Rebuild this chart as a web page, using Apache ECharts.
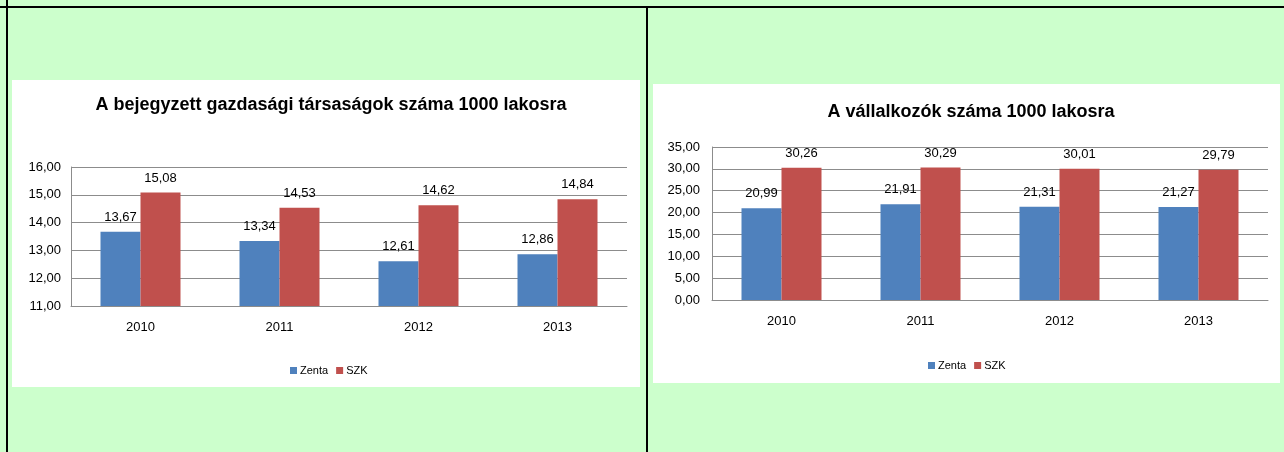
<!DOCTYPE html>
<html>
<head>
<meta charset="utf-8">
<script src="https://cdn.jsdelivr.net/npm/echarts@6/dist/echarts.min.js"></script>
<style>
  html, body { margin: 0; padding: 0; background: #CCFFCC; }
  #chart { width: 1284px; height: 452px; }
</style>
</head>
<body>
<div id="chart"></div>
<script>
// adatok
const years = ['2010', '2011', '2012', '2013']
const seriesNames = ['Zenta', 'SZK']
const tarsasagokZenta = [13.67, 13.34, 12.61, 12.86]
const tarsasagokSzk = [15.08, 14.53, 14.62, 14.84]
const vallalkozokZenta = [20.99, 21.91, 21.31, 21.27]
const vallalkozokSzk = [30.26, 30.29, 30.01, 29.79]
const titles = ['A bejegyzett gazdasági társaságok száma 1000 lakosra', 'A vállalkozók száma 1000 lakosra']

const blue = '#4F81BD'
const red = '#C0504D'
const gridColor = '#8C8C8C'
const font = 'Liberation Sans, Arial, sans-serif'

function fmt (v) {
  return Number(v).toFixed(2).replace('.', ',')
}

const chart = echarts.init(document.getElementById('chart'))

function yAxis (idx, min, max, interval, margin) {
  return {
    type: 'value',
    gridIndex: idx,
    min: min,
    max: max,
    interval: interval,
    axisLine: { show: true, lineStyle: { color: gridColor } },
    axisTick: { show: false },
    axisLabel: { formatter: fmt, color: '#000', fontSize: 13, fontFamily: font, margin: margin },
    splitLine: { show: true, lineStyle: { color: gridColor, width: 1 } }
  }
}

function xAxis (idx) {
  return {
    type: 'category',
    gridIndex: idx,
    data: years,
    axisLine: { show: true, lineStyle: { color: gridColor } },
    axisTick: { show: false },
    axisLabel: { color: '#000', fontSize: 13, fontFamily: font, margin: 15 }
  }
}

function bar (name, data, color, idx) {
  return {
    name: name,
    type: 'bar',
    xAxisIndex: idx,
    yAxisIndex: idx,
    data: data,
    barWidth: 40,
    barGap: '0%',
    itemStyle: { color: color },
    label: {
      show: true,
      position: 'top',
      distance: 8,
      formatter: p => fmt(p.value),
      color: '#000',
      fontSize: 13,
      fontFamily: font
    }
  }
}

const option = {
  animation: false,
  backgroundColor: '#CCFFCC',
  graphic: [
    // fehér diagram hátterek
    { type: 'rect', shape: { x: 12, y: 80, width: 628, height: 307 }, style: { fill: '#fff' }, z: -10 },
    { type: 'rect', shape: { x: 653, y: 84, width: 627, height: 299 }, style: { fill: '#fff' }, z: -10 },
    // táblázat vonalai
    { type: 'rect', shape: { x: 0, y: 6, width: 1284, height: 2 }, style: { fill: '#000' } },
    { type: 'rect', shape: { x: 6, y: 0, width: 2, height: 452 }, style: { fill: '#000' } },
    { type: 'rect', shape: { x: 646, y: 6, width: 2, height: 446 }, style: { fill: '#000' } }
  ],
  title: [
    {
      text: titles[0],
      left: 326,
      top: 91,
      textAlign: 'center',
      textStyle: { fontSize: 18, fontWeight: 'bold', fontFamily: font, color: '#000' }
    },
    {
      text: titles[1],
      left: 966,
      top: 98,
      textAlign: 'center',
      textStyle: { fontSize: 18, fontWeight: 'bold', fontFamily: font, color: '#000' }
    }
  ],
  legend: [
    {
      data: seriesNames,
      left: 285,
      top: 360,
      itemWidth: 7,
      itemHeight: 7,
      itemGap: 8,
      icon: 'rect',
      textStyle: { fontSize: 11, fontFamily: font, color: '#000', padding: [0, 0, 0, -2] }
    },
    {
      data: seriesNames,
      left: 923,
      top: 355,
      itemWidth: 7,
      itemHeight: 7,
      itemGap: 8,
      icon: 'rect',
      textStyle: { fontSize: 11, fontFamily: font, color: '#000', padding: [0, 0, 0, -2] }
    }
  ],
  grid: [
    { left: 71, top: 167, width: 556, height: 139 },
    { left: 712, top: 147, width: 556, height: 153 }
  ],
  xAxis: [xAxis(0), xAxis(1)],
  yAxis: [yAxis(0, 11, 16, 1, 10), yAxis(1, 0, 35, 5, 12)],
  series: [
    bar(seriesNames[0], tarsasagokZenta, blue, 0),
    bar(seriesNames[1], tarsasagokSzk, red, 0),
    bar(seriesNames[0], vallalkozokZenta, blue, 1),
    bar(seriesNames[1], vallalkozokSzk, red, 1)
  ]
}

chart.setOption(option)
</script>
</body>
</html>
